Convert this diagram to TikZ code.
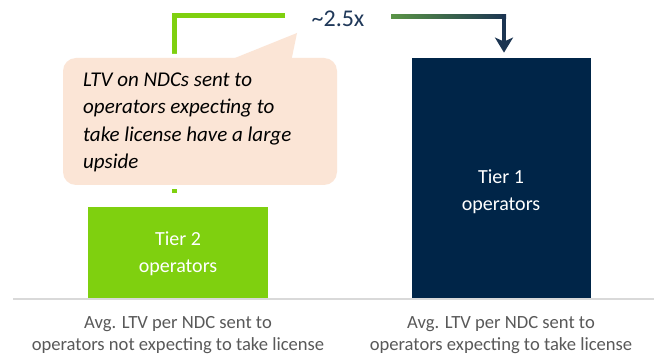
\documentclass[tikz,border=0pt]{standalone}
\usepackage{fontspec}
\setmainfont{Carlito}
\usetikzlibrary{arrows.meta}

\definecolor{tiergreen}{HTML}{7FD00F}
\definecolor{tiernavy}{HTML}{002548}
\definecolor{arrownavy}{HTML}{1C3552}
\definecolor{shadegreen}{HTML}{5A9446}
\definecolor{peach}{HTML}{FBE5D6}
\definecolor{ratiotext}{HTML}{1F3859}
\definecolor{labelgray}{HTML}{595959}
\definecolor{axisgray}{HTML}{D9D9D9}

\begin{document}
\begin{tikzpicture}[x=1pt,y=-1pt,
  barbox/.style={fill=#1, draw=none, inner sep=0, anchor=south west},
  tierlbl/.style={anchor=base, text=white, inner sep=0, font=\fontsize{20}{24}\selectfont},
  notelbl/.style={anchor=base west, text=black, inner sep=0, font=\fontsize{21}{26}\selectfont\itshape},
  axislbl/.style={anchor=base, text=labelgray, inner sep=0, font=\fontsize{18.6}{22}\selectfont},
  greenline/.style={draw=tiergreen, line width=4.4pt},
  navyarrow/.style={draw=arrownavy, line width=4.4pt, -{Stealth[length=15pt,width=18pt,inset=4pt]}},
]
% canvas
\useasboundingbox (0,0) rectangle (654,358);
\fill[white] (0,0) rectangle (654,358);

% axis line
\coordinate (axL) at (13,299);
\coordinate (axR) at (654,299);
\draw[axisgray, line width=1.5pt] (axL) -- (axR);

% bars
\node[barbox=tiergreen, minimum width=180pt, minimum height=91pt] (tier2) at (88,298) {};
\node[barbox=tiernavy, minimum width=179pt, minimum height=240pt] (tier1) at (412,298) {};

% bar labels
\node[tierlbl] (t2a) at (178,246) {Tier 2};
\node[tierlbl] (t2b) at (178,273) {operators};
\node[tierlbl] (t1a) at (501,183.5) {Tier 1};
\node[tierlbl] (t1b) at (501,211) {operators};

% category labels
\node[axislbl] (c2a) at (178,328.5) {Avg. LTV per NDC sent to};
\node[axislbl] (c2b) at (178,350.5) {operators not expecting to take license};
\node[axislbl] (c1a) at (501,328.5) {Avg. LTV per NDC sent to};
\node[axislbl] (c1b) at (501,350.5) {operators expecting to take license};

% ratio label
\node[anchor=base, inner sep=0, text=ratiotext, font=\fontsize{24}{28}\selectfont] (ratio) at (338,27) {\textasciitilde2.5x};

% green bracket from the Tier 2 side
\coordinate (gfoot) at (174.5,193);
\coordinate (gend) at (285,15.5);
\draw[greenline] (gfoot) |- (gend);

% shaded arrow into the Tier 1 bar
\coordinate (astart) at (391,16.5);
\coordinate (acorner) at (504,14.3);
\shade[left color=shadegreen, right color=arrownavy] (astart |- 0,14.3) rectangle (506.2,18.7);
\draw[navyarrow, shorten >=5pt] (acorner) -- (acorner |- tier1.north);

% callout with white halo
\coordinate (ptip) at (297,33);
\coordinate (pl) at (225,62);
\coordinate (pr) at (291,62);
\draw[white, line width=8pt, line join=round, rounded corners=13pt] (63,58) rectangle (337,185);
\draw[white, line width=8pt, line join=round] (pl) -- (ptip) -- (pr);
\fill[peach, rounded corners=13pt] (63,58) rectangle (337,185);
\fill[peach] (pl) -- (ptip) -- (pr) -- cycle;
\node[draw=none, inner sep=0, minimum width=274pt, minimum height=127pt, anchor=north west] (callout) at (63,58) {};

\node[notelbl] (n1) at (83,86.7) {LTV on NDCs sent to};
\node[notelbl] (n2) at (83,114) {operators expecting to};
\node[notelbl] (n3) at (83,141.3) {take license have a large};
\node[notelbl] (n4) at (83,168.3) {upside};
\end{tikzpicture}
\end{document}
